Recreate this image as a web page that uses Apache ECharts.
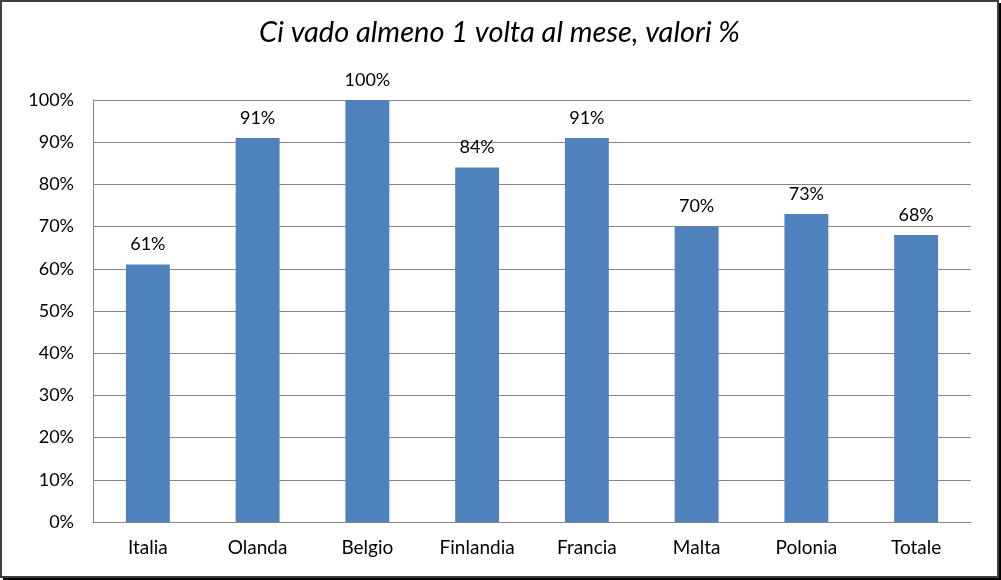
<!DOCTYPE html>
<html><head><meta charset="utf-8">
<script src="https://cdn.jsdelivr.net/npm/echarts@6/dist/echarts.min.js"></script>
<style>
html,body{margin:0;padding:0;background:#fff;}
#wrap{position:absolute;left:0;top:0;width:995px;height:574px;border:2px solid #404040;box-shadow:3px 3px 0 #000;background:#fff;}
#c{width:995px;height:574px;}
</style></head><body>
<div id="wrap"><div id="c"></div></div>
<script>
const categories = ["Italia","Olanda","Belgio","Finlandia","Francia","Malta","Polonia","Totale"];
const values = [61, 91, 100, 84, 91, 70, 73, 68];
const titleText = "Ci vado almeno 1 volta al mese, valori %";
const font = "Lato, 'Open Sans', sans-serif";
const chart = echarts.init(document.getElementById('c'));
chart.setOption({
  animation:false,
  title:{text:titleText,left:'center',top:11,textStyle:{fontFamily:font,fontStyle:'italic',fontWeight:'normal',fontSize:29,color:'#000'}},
  grid:{left:91,right:26,top:98,bottom:54},
  xAxis:{type:'category',data:categories,axisLine:{lineStyle:{color:'#868686'}},axisTick:{show:false},
    axisLabel:{color:'#000',fontFamily:font,fontSize:19,margin:16}},
  yAxis:{type:'value',min:0,max:100,interval:10,axisLine:{show:true,lineStyle:{color:'#868686'}},axisTick:{show:false},
    splitLine:{lineStyle:{color:'#868686'}},
    axisLabel:{color:'#000',fontFamily:font,fontSize:18,margin:19,formatter:'{value}%'}},
  series:[{type:'bar',data:values,barWidth:'40%',itemStyle:{color:'#4F81BD'},
    label:{show:true,position:'top',distance:11,color:'#000',fontFamily:font,fontSize:18,formatter:'{c}%'}}]
});
</script></body></html>
